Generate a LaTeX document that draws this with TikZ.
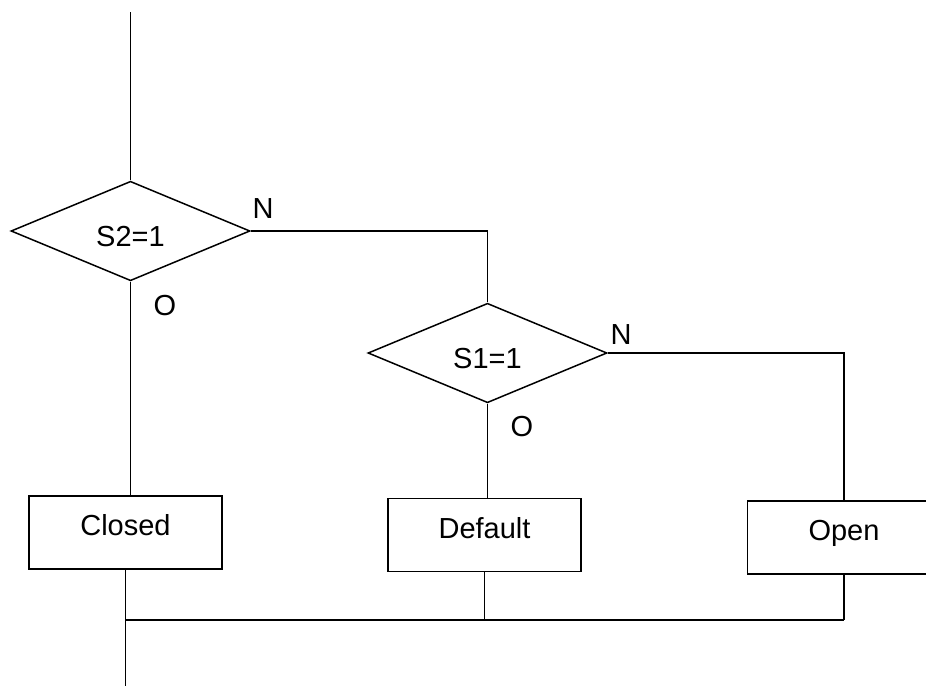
\documentclass[tikz,border=0pt]{standalone}
\usepackage{fontspec}
\setmainfont{Liberation Sans}
\usetikzlibrary{shapes.geometric}
\begin{document}
\begin{tikzpicture}[x=1pt,y=-1pt,
  line width=1.5pt,
  every node/.style={font=\fontsize{29}{34}\selectfont},
  decision/.style={diamond,draw,line width=1.5pt,minimum width=239pt,minimum height=96pt,inner sep=0pt,text height=31pt,text depth=0pt},
  actionbox/.style={rectangle,draw,line width=1.5pt,minimum width=193pt,minimum height=73pt,inner sep=0pt,text height=21pt,text depth=15pt},
  branchlabel/.style={inner sep=0pt}]
\useasboundingbox (0,0) rectangle (926,686);
\clip (0,0) rectangle (926,686);

\node[decision] (s2) at (130.5,231) {S2=1};
\node[decision] (s1) at (487.5,353) {S1=1};

\node[actionbox] (closed) at (125.5,532.5) {Closed};
\node[actionbox] (default) at (484.5,535) {Default};
\node[actionbox] (open) at (844,537.5) {Open};

\node[branchlabel] (n1) at (263,209) {N};
\node[branchlabel] (o1) at (165,306) {O};
\node[branchlabel] (n2) at (621,335) {N};
\node[branchlabel] (o2) at (522,427) {O};

\coordinate (top) at (130.5,12);
\coordinate (busl) at (125.5,620);
\coordinate (busr) at (844,620);
\coordinate (bottom) at (125.5,686);

\draw (top) -- (s2.north);
\draw (s2.south) -- (s2.south |- closed.north);
\draw (s2.east) -| (s1.north);
\draw (s1.south) -- (s1.south |- default.north);
\draw (s1.east) -| (open.north);

\draw (closed.south) -- (bottom);
\draw (busl) -- (busr);
\draw (default.south) -- (default.south |- busl);
\draw (open.south) -- (busr);
\end{tikzpicture}
\end{document}
